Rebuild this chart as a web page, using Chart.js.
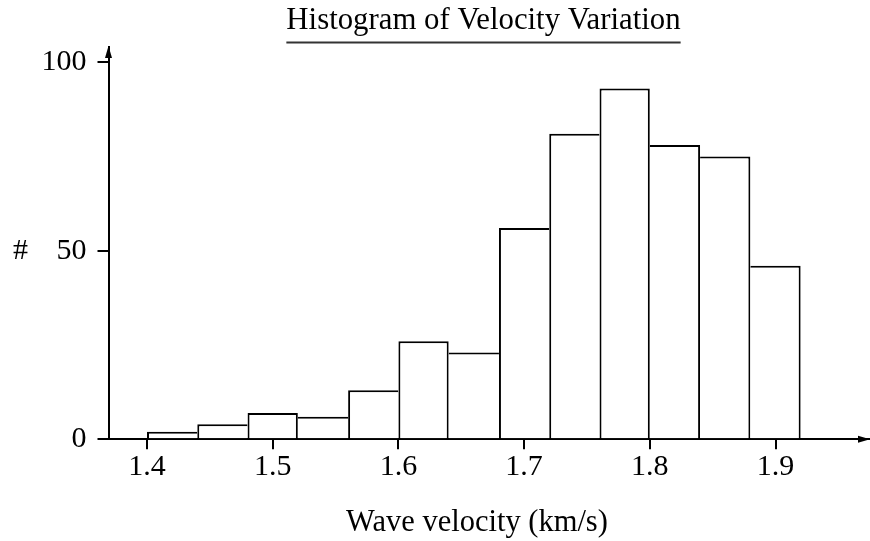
<!DOCTYPE html>
<html>
<head>
<meta charset="utf-8">
<script src="https://cdn.jsdelivr.net/npm/chart.js@4/dist/chart.umd.min.js"></script>
<style>
html,body{margin:0;padding:0;background:#fff;}
canvas{display:block;}
</style>
</head>
<body>
<canvas id="c" width="870" height="541"></canvas>
<script>
const chartTitle = 'Histogram of Velocity Variation';
const xAxisTitle = 'Wave velocity (km/s)';
const yAxisTitle = '#';
const binEdges = [1.40, 1.44, 1.48, 1.52, 1.56, 1.60, 1.64, 1.68, 1.72, 1.76, 1.80, 1.84, 1.88, 1.92];
const counts = [2, 4, 7, 6, 13, 26, 23, 56, 81, 93, 78, 75, 46];
const xTicks = [1.4, 1.5, 1.6, 1.7, 1.8, 1.9];
const yTicks = [0, 50, 100];

const FONT = '"Liberation Serif", "Times New Roman", serif';
const binCenters = counts.map((_, i) => (binEdges[i] + binEdges[i + 1]) / 2);
const points = counts.map((c, i) => ({ x: binCenters[i], y: c }));
const last = counts.length - 1;

const decor = {
  id: 'decor',
  afterDraw(chart) {
    const ctx = chart.ctx;
    const area = chart.chartArea;
    const ys = chart.scales.y;
    ctx.save();
    ctx.fillStyle = '#000';
    // title + underline
    ctx.font = '30.8px ' + FONT;
    ctx.textAlign = 'center';
    ctx.textBaseline = 'alphabetic';
    ctx.fillText(chartTitle, 483.5, 29);
    const w = ctx.measureText(chartTitle).width;
    ctx.strokeStyle = '#333';
    ctx.lineWidth = 2;
    ctx.beginPath();
    ctx.moveTo(483.5 - w / 2, 42.5);
    ctx.lineTo(483.5 + w / 2, 42.5);
    ctx.stroke();
    // x axis title
    ctx.font = '30.5px ' + FONT;
    ctx.fillStyle = '#000';
    ctx.fillText(xAxisTitle, 477, 531);
    // y axis title
    ctx.font = '30px ' + FONT;
    ctx.textBaseline = 'middle';
    ctx.fillText(yAxisTitle, 20.5, ys.getPixelForValue(50));
    // arrows
    const ax = area.left, ay = area.bottom;
    ctx.beginPath();
    ctx.moveTo(ax, area.top - 1);
    ctx.lineTo(ax - 3.5, area.top + 11);
    ctx.lineTo(ax + 3.5, area.top + 11);
    ctx.closePath();
    ctx.fill();
    ctx.beginPath();
    ctx.moveTo(area.right + 1, ay);
    ctx.lineTo(area.right - 11, ay - 3.5);
    ctx.lineTo(area.right - 11, ay + 3.5);
    ctx.closePath();
    ctx.fill();
    ctx.restore();
  }
};

new Chart(document.getElementById('c'), {
  type: 'bar',
  data: {
    datasets: [{
      data: points,
      backgroundColor: '#fff',
      borderColor: '#000',
      borderWidth: (ctx) => {
        const i = ctx.dataIndex;
        return {
          top: 2,
          left: (i === 0 || counts[i] >= counts[i - 1]) ? 2 : 0,
          right: (i === last || counts[i] > counts[i + 1]) ? 2 : 0,
          bottom: 0
        };
      },
      borderSkipped: 'start',
      barPercentage: 1,
      categoryPercentage: 1,
      inflateAmount: 0
    }]
  },
  options: {
    responsive: false,
    animation: false,
    devicePixelRatio: 1,
    layout: { padding: { top: 47, right: 1, left: 0, bottom: 0 } },
    plugins: {
      legend: { display: false },
      title: { display: false },
      tooltip: { enabled: false }
    },
    scales: {
      x: {
        type: 'linear',
        min: 1.36937,
        max: 1.97438,
        offset: false,
        z: 1,
        afterFit: (s) => { s.height = 101.7; },
        afterBuildTicks: (s) => { s.ticks = xTicks.map(v => ({ value: v })); },
        grid: { display: true, offset: false, drawOnChartArea: false, drawTicks: true, tickLength: 10, lineWidth: 2, tickWidth: 2, tickColor: '#000', color: '#000' },
        border: { display: true, color: '#000', width: 2 },
        ticks: {
          autoSkip: false, maxRotation: 0, minRotation: 0, padding: 0, color: '#000',
          font: { family: FONT, size: 30 },
          callback: (v) => Number(v).toFixed(1)
        },
        title: { display: false }
      },
      y: {
        type: 'linear',
        min: 0,
        max: 104,
        z: 1,
        afterFit: (s) => { s.width = 108.5; },
        afterBuildTicks: (s) => { s.ticks = yTicks.map(v => ({ value: v })); },
        grid: { display: true, drawOnChartArea: false, drawTicks: true, tickLength: 11, lineWidth: 2, tickWidth: 2, tickColor: '#000', color: '#000' },
        border: { display: true, color: '#000', width: 2 },
        ticks: {
          padding: 11, color: '#000',
          font: { family: FONT, size: 30 },
          callback: (v) => String(v)
        },
        title: { display: false }
      }
    }
  },
  plugins: [decor]
});
</script>
</body>
</html>
